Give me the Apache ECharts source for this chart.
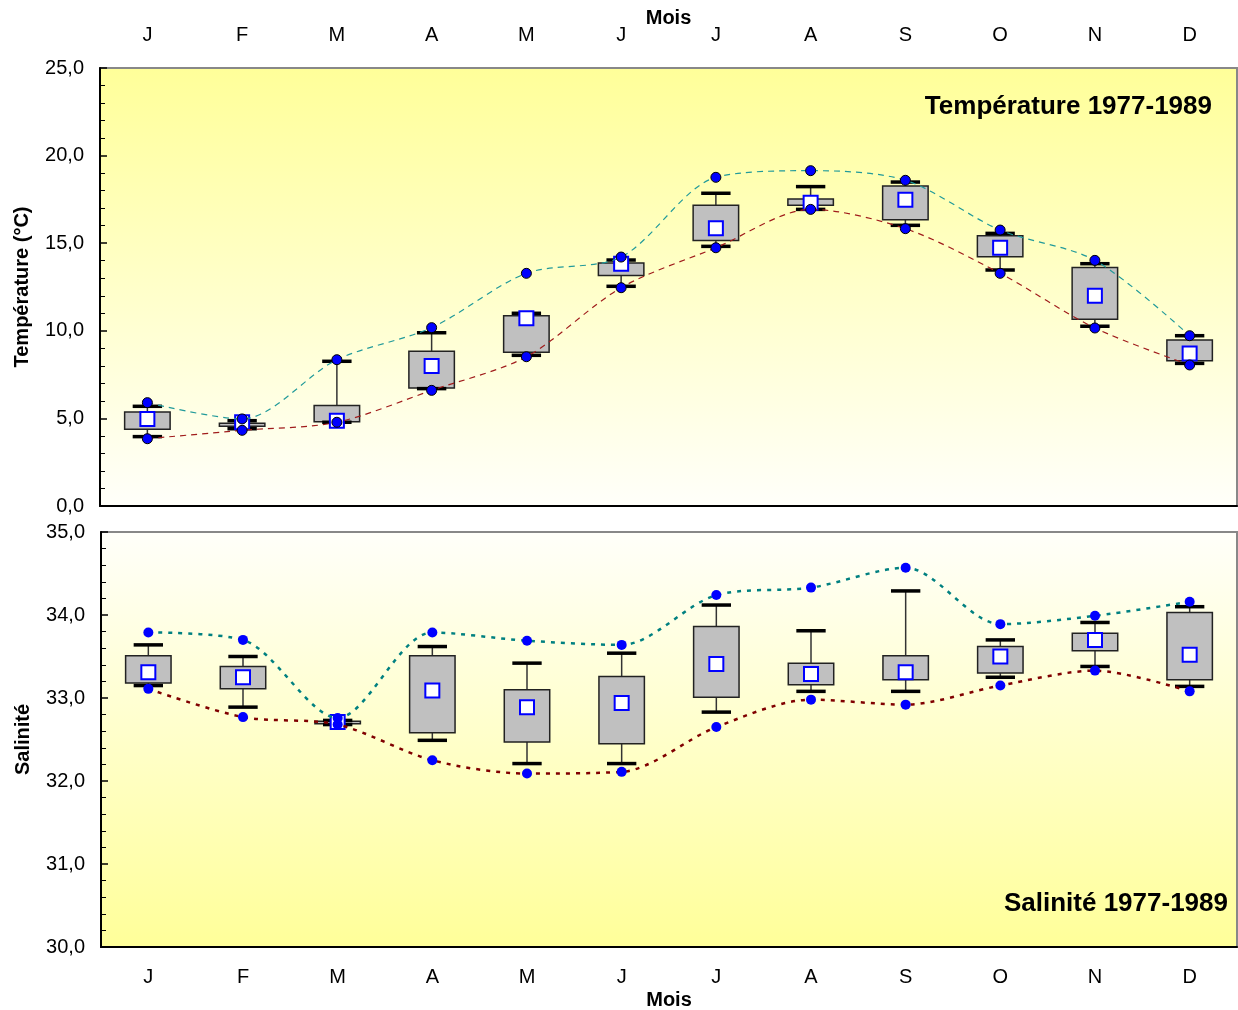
<!DOCTYPE html>
<html><head><meta charset="utf-8">
<script src="https://cdn.jsdelivr.net/npm/echarts@6/dist/echarts.min.js"></script>
<style>html,body{margin:0;padding:0;background:#fff}#c{width:1238px;height:1010px}</style>
</head><body><div id="c"></div>
<script>
// Categories
const months = ['J','F','M','A','M','J','J','A','S','O','N','D'];

// Temperature (°C) 1977-1989
const tMax      = [5.90, 4.97, 8.35, 10.18, 13.28, 14.21, 18.76, 19.14, 18.59, 15.75, 14.02, 9.72];
const tWhiskHi  = [5.69, 4.87, 8.26, 9.89, 11.00, 14.04, 17.85, 18.23, 18.49, 15.56, 13.83, 9.72];
const tQ3       = [5.37, 4.72, 5.73, 8.83, 10.86, 13.87, 17.16, 17.52, 18.26, 15.43, 13.62, 9.47];
const tQ1       = [4.38, 4.55, 4.81, 6.74, 8.77, 13.15, 15.16, 17.16, 16.34, 14.23, 10.66, 8.29];
const tWhiskLo  = [3.96, 4.41, 4.78, 6.70, 8.60, 12.54, 14.82, 16.93, 16.02, 13.47, 10.26, 8.14];
const tMin      = [3.84, 4.32, 4.78, 6.60, 8.52, 12.46, 14.74, 16.93, 15.83, 13.28, 10.16, 8.05];
const tMean     = [4.97, 4.78, 4.87, 7.99, 10.71, 13.83, 15.85, 17.31, 17.48, 14.74, 12.00, 8.71];

// Salinity 1977-1989
const sMax      = [33.79, 33.70, 32.76, 33.79, 33.69, 33.64, 34.24, 34.33, 34.57, 33.89, 33.99, 34.16];
const sWhiskHi  = [33.64, 33.50, 32.73, 33.62, 33.42, 33.54, 34.12, 33.81, 34.29, 33.70, 33.91, 34.10];
const sQ3       = [33.51, 33.38, 32.72, 33.51, 33.10, 33.26, 33.86, 33.42, 33.51, 33.62, 33.78, 34.03];
const sQ1       = [33.18, 33.11, 32.69, 32.58, 32.47, 32.45, 33.01, 33.16, 33.22, 33.30, 33.57, 33.22];
const sWhiskLo  = [33.15, 32.89, 32.68, 32.49, 32.21, 32.21, 32.83, 33.08, 33.08, 33.25, 33.38, 33.14];
const sMin      = [33.11, 32.77, 32.68, 32.25, 32.09, 32.11, 32.65, 32.98, 32.92, 33.15, 33.33, 33.08];
const sMean     = [33.31, 33.25, 32.71, 33.09, 32.89, 32.94, 33.41, 33.29, 33.31, 33.50, 33.70, 33.52];

const FONT = 'Liberation Sans, Arial, sans-serif';
const fmt = v => v.toFixed(1).replace('.', ',');

function boxData(wlo, q1, q3, whi, mean) {
  return months.map((m, i) => [i, wlo[i], q1[i], q3[i], whi[i], mean[i]]);
}

function boxRender(params, api) {
  const i = api.value(0);
  const wlo = api.coord([i, api.value(1)]);
  const q1 = api.coord([i, api.value(2)]);
  const q3 = api.coord([i, api.value(3)]);
  const whi = api.coord([i, api.value(4)]);
  const mean = api.coord([i, api.value(5)]);
  const bw = api.size([1, 0])[0];
  const boxW = bw * 0.48, capW = bw * 0.31, sq = 14;
  const x = q1[0];
  const wStyle = { stroke: '#333', lineWidth: 1.5 };
  const capStyle = { stroke: '#000', lineWidth: 3.5 };
  return {
    type: 'group',
    children: [
      { type: 'line', shape: { x1: x, y1: whi[1], x2: x, y2: q3[1] }, style: wStyle },
      { type: 'line', shape: { x1: x, y1: q1[1], x2: x, y2: wlo[1] }, style: wStyle },
      { type: 'rect', shape: { x: x - boxW / 2, y: q3[1], width: boxW, height: Math.max(q1[1] - q3[1], 1) },
        style: { fill: '#c0c0c0', stroke: '#222', lineWidth: 1.5 } },
      { type: 'line', shape: { x1: x - capW / 2, y1: whi[1], x2: x + capW / 2, y2: whi[1] }, style: capStyle },
      { type: 'line', shape: { x1: x - capW / 2, y1: wlo[1], x2: x + capW / 2, y2: wlo[1] }, style: capStyle },
      { type: 'rect', shape: { x: mean[0] - sq / 2, y: mean[1] - sq / 2, width: sq, height: sq },
        style: { fill: '#fff', stroke: '#0000ff', lineWidth: 2 } }
    ]
  };
}

const chart = echarts.init(document.getElementById('c'));

const topBg = new echarts.graphic.LinearGradient(0, 0, 0, 1, [
  { offset: 0, color: '#ffff99' }, { offset: 1, color: '#fffffa' }]);
const botBg = new echarts.graphic.LinearGradient(0, 0, 0, 1, [
  { offset: 0, color: '#fffffa' }, { offset: 1, color: '#ffff99' }]);

const axisLbl = { color: '#000', fontSize: 20, fontFamily: FONT };
const nameStyle = { color: '#000', fontSize: 20, fontWeight: 'bold', fontFamily: FONT };

chart.setOption({
  animation: false,
  backgroundColor: '#fff',
  title: [
    { text: 'Température 1977-1989', right: 26, top: 94, padding: 0,
      textStyle: { fontSize: 26, fontWeight: 'bold', color: '#000', fontFamily: FONT } },
    { text: 'Salinité 1977-1989', right: 10, top: 891, padding: 0,
      textStyle: { fontSize: 26, fontWeight: 'bold', color: '#000', fontFamily: FONT } }
  ],
  grid: [
    { left: 100, top: 68, width: 1137, height: 438, show: true, backgroundColor: topBg,
      borderColor: '#888', borderWidth: 2, outerBoundsMode: 'none', containLabel: false },
    { left: 101, top: 532, width: 1136, height: 415, show: true, backgroundColor: botBg,
      borderColor: '#888', borderWidth: 2, outerBoundsMode: 'none', containLabel: false }
  ],
  xAxis: [
    { gridIndex: 0, type: 'category', position: 'top', data: months, boundaryGap: true,
      axisLine: { lineStyle: { color: '#000', width: 2 } },
      axisTick: { inside: true, length: 6, lineStyle: { color: '#000', width: 1.5 } },
      axisLabel: Object.assign({ margin: 23 }, axisLbl),
      name: 'Mois', nameLocation: 'middle', nameGap: 40, nameMoveOverlap: false, nameTextStyle: nameStyle },
    { gridIndex: 1, type: 'category', position: 'bottom', data: months, boundaryGap: true,
      axisLine: { lineStyle: { color: '#000', width: 2 } },
      axisTick: { inside: true, length: 6, lineStyle: { color: '#000', width: 1.5 } },
      axisLabel: Object.assign({ margin: 20 }, axisLbl),
      name: 'Mois', nameLocation: 'middle', nameGap: 43, nameTextStyle: nameStyle }
  ],
  yAxis: [
    { gridIndex: 0, type: 'value', min: 0, max: 25, interval: 5,
      axisLine: { show: true, lineStyle: { color: '#000', width: 2 } },
      axisTick: { show: true, inside: true, length: 7, lineStyle: { color: '#000', width: 1.5 } },
      minorTick: { show: true, splitNumber: 5, length: 5, lineStyle: { color: '#000', width: 1 } },
      splitLine: { show: false },
      axisLabel: Object.assign({ margin: 16, formatter: fmt }, axisLbl),
      name: 'Température (°C)', nameLocation: 'middle', nameGap: 68, nameTextStyle: nameStyle },
    { gridIndex: 1, type: 'value', min: 30, max: 35, interval: 1,
      axisLine: { show: true, lineStyle: { color: '#000', width: 2 } },
      axisTick: { show: true, inside: true, length: 7, lineStyle: { color: '#000', width: 1.5 } },
      minorTick: { show: true, splitNumber: 5, length: 5, lineStyle: { color: '#000', width: 1 } },
      splitLine: { show: false },
      axisLabel: Object.assign({ margin: 16, formatter: fmt }, axisLbl),
      name: 'Salinité', nameLocation: 'middle', nameGap: 68, nameTextStyle: nameStyle }
  ],
  series: [
    { type: 'custom', xAxisIndex: 0, yAxisIndex: 0, renderItem: boxRender, z: 2,
      encode: { x: 0, y: [1, 2, 3, 4, 5] },
      data: boxData(tWhiskLo, tQ1, tQ3, tWhiskHi, tMean) },
    { type: 'custom', xAxisIndex: 1, yAxisIndex: 1, renderItem: boxRender, z: 2,
      encode: { x: 0, y: [1, 2, 3, 4, 5] },
      data: boxData(sWhiskLo, sQ1, sQ3, sWhiskHi, sMean) },
    { type: 'line', xAxisIndex: 0, yAxisIndex: 0, z: 3, smooth: 0.3,
      data: tMax.map((v, i) => [i, v]),
      lineStyle: { color: '#219a9a', width: 1.2, type: [6, 5] },
      symbol: 'circle', symbolSize: 10,
      itemStyle: { color: '#0000ff', borderColor: '#000', borderWidth: 1 } },
    { type: 'line', xAxisIndex: 0, yAxisIndex: 0, z: 3, smooth: 0.3,
      data: tMin.map((v, i) => [i, v]),
      lineStyle: { color: '#a01c1c', width: 1.2, type: [6, 5] },
      symbol: 'circle', symbolSize: 10,
      itemStyle: { color: '#0000ff', borderColor: '#000', borderWidth: 1 } },
    { type: 'line', xAxisIndex: 1, yAxisIndex: 1, z: 3, smooth: 0.3,
      data: sMax.map((v, i) => [i, v]),
      lineStyle: { color: '#008080', width: 2.5, type: [4, 6] },
      symbol: 'circle', symbolSize: 10,
      itemStyle: { color: '#0000ff', borderWidth: 0 } },
    { type: 'line', xAxisIndex: 1, yAxisIndex: 1, z: 3, smooth: 0.3,
      data: sMin.map((v, i) => [i, v]),
      lineStyle: { color: '#800000', width: 2.5, type: [4, 6] },
      symbol: 'circle', symbolSize: 10,
      itemStyle: { color: '#0000ff', borderWidth: 0 } }
  ]
});
</script>
</body></html>
